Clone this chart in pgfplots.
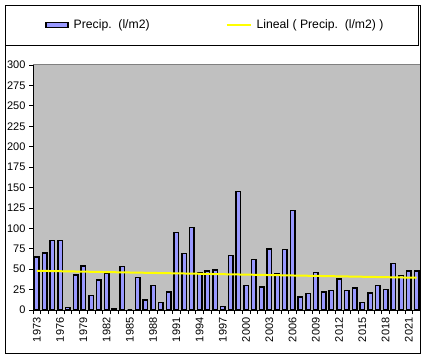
\documentclass[border=0pt]{standalone}
\usepackage{pgfplots}
\pgfplotsset{compat=1.18}
\usetikzlibrary{calc}
\usepackage{fontspec}
\setmainfont{Liberation Sans}
\definecolor{barblue}{HTML}{9999FF}
\definecolor{plotgray}{HTML}{C0C0C0}
\definecolor{edgegray}{HTML}{808080}
\definecolor{trendyellow}{HTML}{FFFF00}
\begin{document}
\begin{tikzpicture}[x=1pt,y=1pt]
\begin{axis}[
  width=387.5pt, height=245pt, scale only axis,
  xmin=-0.5, xmax=49.5, ymin=0, ymax=300,
  axis background/.style={fill=plotgray},
  axis line style={draw=none},
  ytick={0,25,...,300},
  xtick={0,3,...,48},
  xticklabels={1973,1976,1979,1982,1985,1988,1991,1994,1997,2000,2003,2006,2009,2012,2015,2018,2021},
  minor xtick={-0.5,0.5,...,49.5},
  tick pos=left, tick align=outside,
  major tick length=4pt, minor tick length=4pt,
  major x tick style={draw=none},
  minor x tick style={black, line width=0.8pt},
  major y tick style={black, line width=0.8pt},
  tick label style={font=\fontsize{11}{12}\selectfont},
  /pgf/number format/assume math mode=true,
  x tick label style={rotate=90, anchor=east},
  legend columns=2,
  legend style={draw=none, fill=none, inner sep=0pt,
    at={(0.031,1.163)}, anchor=west,
    font=\fontsize{12.2}{13}\selectfont,
    /tikz/every odd column/.append style={column sep=3pt},
    /tikz/every even column/.append style={column sep=74pt}},
]
\addplot[ybar, bar width=0.58, fill=barblue, draw=black, line width=1.5pt,
  legend image code/.code={\draw[fill=barblue,draw=black,line width=1.5pt] (0pt,-2.5pt) rectangle (22pt,2.5pt);}]
coordinates {
(0,65) (1,70) (2,85) (3,85) (4,3) (5,43) (6,54) (7,18) (8,37) (9,45)
(10,2) (11,53) (12,0) (13,40) (14,12) (15,30) (16,9) (17,22) (18,95) (19,69)
(20,101) (21,46) (22,48) (23,49) (24,4) (25,67) (26,145) (27,30) (28,62) (29,28)
(30,75) (31,45) (32,74) (33,122) (34,16) (35,20) (36,46) (37,22) (38,24) (39,38)
(40,24) (41,27) (42,9) (43,21) (44,30) (45,25) (46,57) (47,42) (48,48) (49,48)
};
\addlegendentry{Precip.\ \ (l/m2)}
\addplot[trendyellow, line width=2pt, no marks,
  legend image code/.code={\draw[trendyellow,line width=2pt] (0pt,0pt) -- (24pt,0pt);}]
coordinates {(0,48) (49,39.5)};
\addlegendentry{Lineal ( Precip.\ \ (l/m2) )}
\draw[black, line width=1pt] (rel axis cs:0,0) -- (rel axis cs:0,1);
\draw[black, line width=1pt] (rel axis cs:0,0) -- (rel axis cs:1,0);
\draw[edgegray, line width=1pt] (rel axis cs:0,1) -- (rel axis cs:1,1);
\draw[black, line width=1pt] (rel axis cs:1,0) -- (rel axis cs:1,1);
\coordinate (pl) at (rel axis cs:0,0);
\coordinate (pr) at (rel axis cs:1,1);
\end{axis}
% chart frame and legend box, placed relative to the plot area
\draw[black, line width=1.5pt] ($(pl)+(-27.5,-43.5)$) rectangle ($(pr)+(0,59.5)$);
\draw[black, line width=1pt] ($(pl|-pr)+(-27.5,19)$) rectangle ($(pr)+(-2.5,59.5)$);
\path ($(pl)+(-33,-49)$) rectangle ($(pr)+(5.5,65)$);
\end{tikzpicture}
\end{document}
